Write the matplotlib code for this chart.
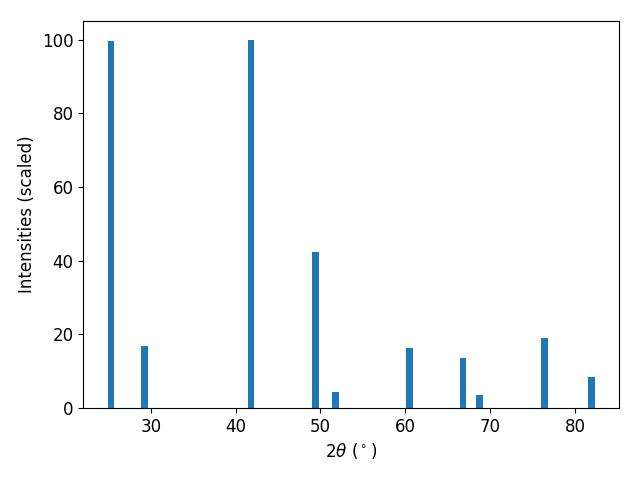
import numpy as np
import matplotlib.pyplot as plt

# Peak positions (2theta, degrees) and scaled intensities
two_theta = [25.3, 29.3, 41.8, 49.4, 51.8, 60.5, 66.8, 68.7, 76.4, 81.9]
intensity = [99.5, 16.7, 100.0, 42.4, 4.4, 16.4, 13.7, 3.6, 19.1, 8.5]

fig = plt.figure(figsize=(6.4, 4.8), dpi=100)
ax = plt.gca()

ax.bar(two_theta, intensity, width=0.8)

ax.set_xlabel(r'2$\theta$ ($^\circ$)', fontsize=12)
ax.set_ylabel('Intensities (scaled)', fontsize=12)
ax.tick_params(labelsize=12)

plt.subplots_adjust(left=0.13, right=0.967, top=0.956, bottom=0.15)
plt.savefig('out.png')
